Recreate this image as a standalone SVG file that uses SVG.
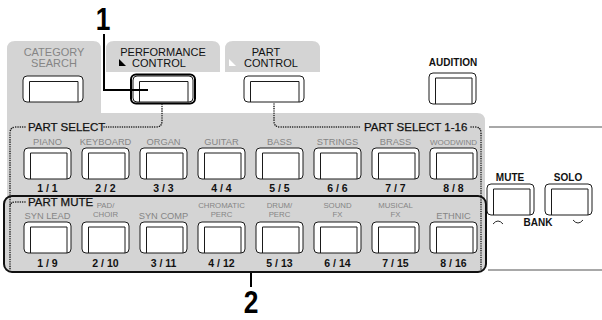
<svg xmlns="http://www.w3.org/2000/svg" width="602" height="320" viewBox="0 0 602 320">
<style>
text{font-family:"Liberation Sans",Arial,sans-serif}
.panel{fill:#d4d4d4}
.ob{fill:#fff;stroke:#1a1a1a;stroke-width:1}
.ib{fill:none;stroke:#1a1a1a;stroke-width:1}
.lab{font-size:9.3px;fill:#858585;text-anchor:middle}
.lab2{font-size:7.8px;fill:#858585;text-anchor:middle}
.num{font-size:10.5px;font-weight:bold;fill:#111;text-anchor:middle}
.sec{font-size:11.5px;fill:#111;stroke:#111;stroke-width:0.25}
.tab{font-size:11px;fill:#111;text-anchor:middle}
.tabg{font-size:11px;fill:#858585;text-anchor:middle}
.bk{font-size:10px;font-weight:bold;fill:#111;text-anchor:middle}
.dot{fill:none;stroke:#1a1a1a;stroke-width:1.5;stroke-dasharray:0.1 2.2;stroke-linecap:round}
.call{fill:none;stroke:#000;stroke-width:2}
.big{font-size:31px;font-weight:bold;fill:#000;text-anchor:middle}
</style>
<defs>
<g id="btn"><rect class="ob" x="0" y="0" width="47" height="31" rx="4"/><path class="ib" d="M6.5,31 V5 H43 V31"/></g>
<g id="wbtn"><rect class="ob" x="0" y="0" width="60" height="26" rx="4"/><path class="ib" d="M6.5,26 V5.5 H55 V26"/></g>
</defs>

<!-- panels -->
<g id="panels">
<path class="panel" d="M7,49 Q7,41 15,41 H93 Q101,41 101,49 V113 H477 Q485,113 485,121 V268 H7 Z"/>
<path class="panel" d="M106,72 V49 Q106,41 114,41 H212 Q220,41 220,49 V72 Z"/>
<path class="panel" d="M225,72 V49 Q225,41 233,41 H312 Q320,41 320,49 V72 Z"/>
<rect x="4" y="196" width="482" height="76" rx="8" fill="#d4d4d4" stroke="#111" stroke-width="2"/>
<path d="M489,127 H602 M488,270 H602" stroke="#a8a8a8" stroke-width="2" fill="none"/>
</g>

<g id="category-search">
<text class="tabg" x="54" y="56">CATEGORY</text>
<text class="tabg" x="54" y="67">SEARCH</text>
<use href="#wbtn" x="23" y="76"/>
</g>

<g id="performance-control">
<text class="tab" x="163" y="56">PERFORMANCE</text>
<path d="M119,59 V66 H126 Z" fill="#000"/>
<text class="tab" x="159" y="67">CONTROL</text>
<use href="#wbtn" x="133" y="76"/>
<rect x="131" y="74.5" width="64" height="29" rx="5" fill="none" stroke="#000" stroke-width="2"/>
</g>

<g id="part-control">
<text class="tab" x="266" y="56">PART</text>
<path d="M229,59 V66 H236 Z" fill="#fff"/>
<text class="tab" x="271" y="67">CONTROL</text>
<use href="#wbtn" x="244" y="76"/>
</g>

<g id="audition">
<text class="bk" x="453" y="66">AUDITION</text>
<use href="#btn" x="429" y="73"/>
</g>

<g id="part-select">
<text class="sec" x="28" y="131">PART SELECT</text>
<text class="sec" x="364" y="131">PART SELECT 1-16</text>
</g>

<g id="row1">
<g id="piano"><text class="lab" x="47.5" y="145">PIANO</text><use href="#btn" x="24" y="148"/><text class="num" x="47.5" y="192">1 / 1</text></g>
<g id="keyboard"><text class="lab" x="105.5" y="145">KEYBOARD</text><use href="#btn" x="82" y="148"/><text class="num" x="105.5" y="192">2 / 2</text></g>
<g id="organ"><text class="lab" x="163.5" y="145">ORGAN</text><use href="#btn" x="140" y="148"/><text class="num" x="163.5" y="192">3 / 3</text></g>
<g id="guitar"><text class="lab" x="221.5" y="145">GUITAR</text><use href="#btn" x="198" y="148"/><text class="num" x="221.5" y="192">4 / 4</text></g>
<g id="bass"><text class="lab" x="279.5" y="145">BASS</text><use href="#btn" x="256" y="148"/><text class="num" x="279.5" y="192">5 / 5</text></g>
<g id="strings"><text class="lab" x="337.5" y="145">STRINGS</text><use href="#btn" x="314" y="148"/><text class="num" x="337.5" y="192">6 / 6</text></g>
<g id="brass"><text class="lab" x="395.5" y="145">BRASS</text><use href="#btn" x="372" y="148"/><text class="num" x="395.5" y="192">7 / 7</text></g>
<g id="woodwind"><text class="lab" x="453.5" y="145" style="font-size:8px">WOODWIND</text><use href="#btn" x="430" y="148"/><text class="num" x="453.5" y="192">8 / 8</text></g>
</g>

<g id="part-mute">
<text class="sec" x="28" y="206">PART MUTE</text>
</g>

<g id="row2">
<g id="synlead"><text class="lab" x="47.5" y="219">SYN LEAD</text><use href="#btn" x="24" y="222"/><text class="num" x="47.5" y="267">1 / 9</text></g>
<g id="padchoir"><text class="lab2" x="105.5" y="207.5">PAD/</text><text class="lab2" x="105.5" y="216.5">CHOIR</text><use href="#btn" x="82" y="222"/><text class="num" x="105.5" y="267">2 / 10</text></g>
<g id="syncomp"><text class="lab" x="163.5" y="219">SYN COMP</text><use href="#btn" x="140" y="222"/><text class="num" x="163.5" y="267">3 / 11</text></g>
<g id="chromatic"><text class="lab2" x="221.5" y="207.5">CHROMATIC</text><text class="lab2" x="221.5" y="216.5">PERC</text><use href="#btn" x="198" y="222"/><text class="num" x="221.5" y="267">4 / 12</text></g>
<g id="drum"><text class="lab2" x="279.5" y="207.5">DRUM/</text><text class="lab2" x="279.5" y="216.5">PERC</text><use href="#btn" x="256" y="222"/><text class="num" x="279.5" y="267">5 / 13</text></g>
<g id="soundfx"><text class="lab2" x="337.5" y="207.5">SOUND</text><text class="lab2" x="337.5" y="216.5">FX</text><use href="#btn" x="314" y="222"/><text class="num" x="337.5" y="267">6 / 14</text></g>
<g id="musicalfx"><text class="lab2" x="395.5" y="207.5">MUSICAL</text><text class="lab2" x="395.5" y="216.5">FX</text><use href="#btn" x="372" y="222"/><text class="num" x="395.5" y="267">7 / 15</text></g>
<g id="ethnic"><text class="lab" x="453.5" y="219">ETHNIC</text><use href="#btn" x="430" y="222"/><text class="num" x="453.5" y="267">8 / 16</text></g>
</g>

<g id="mute">
<text class="bk" x="510" y="181">MUTE</text>
<use href="#btn" x="487" y="184"/>
</g>
<g id="solo">
<text class="bk" x="568" y="181">SOLO</text>
<use href="#btn" x="545" y="184"/>
</g>
<g id="bank">
<text class="bk" x="538" y="226">BANK</text>
<path d="M493,224 Q498,218 503,224 M573,220 Q578,226 583,220" fill="none" stroke="#111" stroke-width="0.9"/>
</g>

<g id="connectors">
<path class="dot" d="M25,127 H16 Q10,127 10,133 V270"/>
<path class="dot" d="M25,202 H15 Q10,202 10,207"/>
<path class="dot" d="M104,127 H156 Q162,127 162,121 V104"/>
<path class="dot" d="M274,104 V121 Q274,127 280,127 H361"/>
<path class="dot" d="M471,127 H475 Q481,127 481,133 V270"/>
<path class="call" d="M104,34 V90 H148"/>
<path class="call" d="M251,273 V287"/>
</g>

<g id="callouts">
<text class="big" transform="translate(103,30) scale(0.85,1)" x="0" y="0">1</text>
<text class="big" transform="translate(251,313) scale(0.85,1)" x="0" y="0">2</text>
</g>
</svg>
